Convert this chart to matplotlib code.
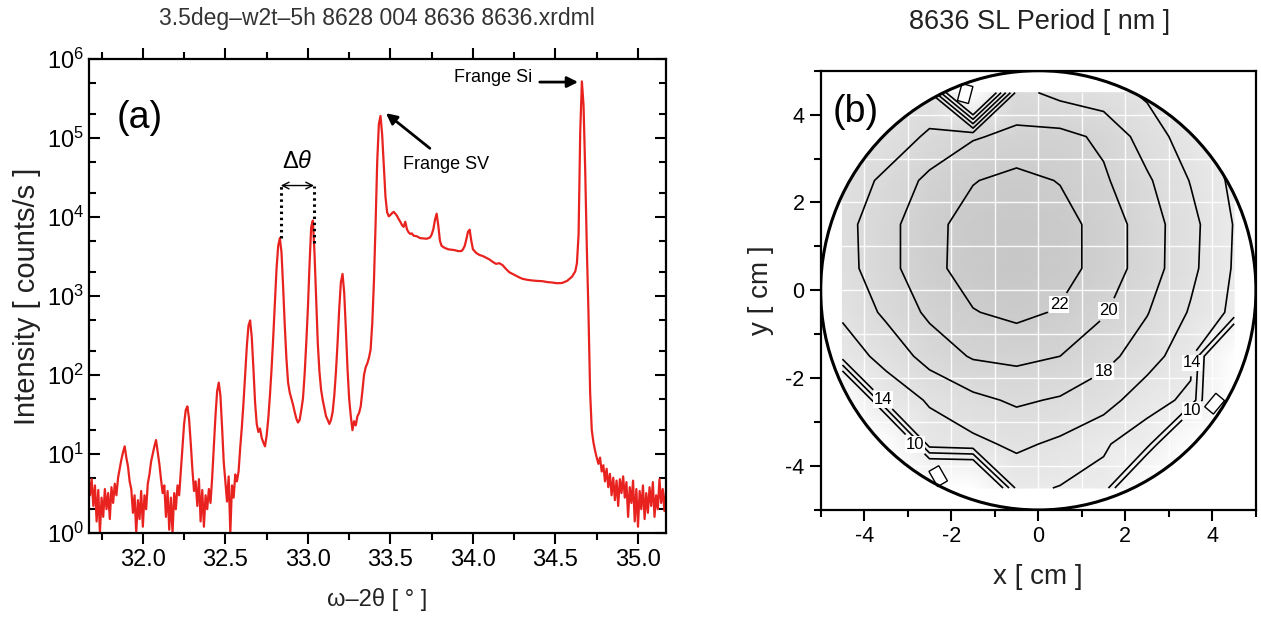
import numpy as np
import matplotlib
matplotlib.use('Agg')
import matplotlib.pyplot as plt
from matplotlib.colors import LinearSegmentedColormap
from matplotlib.patches import Circle, Rectangle
from matplotlib.ticker import MultipleLocator, LogLocator, NullFormatter

plt.rcParams['font.family'] = ['Liberation Sans', 'DejaVu Sans']
plt.rcParams['mathtext.fontset'] = 'custom'
plt.rcParams['mathtext.rm'] = 'Liberation Sans'
plt.rcParams['mathtext.it'] = 'Liberation Sans:italic'
plt.rcParams['axes.unicode_minus'] = False

# ---- (a) XRD omega-2theta scan ----
low_angle = [
    31.67, 31.68, 31.69, 31.70, 31.71, 31.72, 31.73, 31.74, 31.75, 31.76,
    31.77, 31.78, 31.79, 31.80, 31.81, 31.82, 31.83, 31.84, 31.85, 31.86,
    31.87, 31.88, 31.89, 31.90, 31.91, 31.92, 31.93, 31.94, 31.95, 31.96,
    31.97, 31.98, 31.99, 32.00, 32.01, 32.02, 32.03, 32.04, 32.05, 32.06,
    32.07, 32.08, 32.09, 32.10, 32.11, 32.12, 32.13, 32.14, 32.15, 32.16,
    32.17, 32.18, 32.19, 32.20, 32.21, 32.22, 32.23, 32.24, 32.25, 32.26,
    32.27, 32.28, 32.29, 32.30, 32.31, 32.32, 32.33, 32.34, 32.35, 32.36,
    32.37, 32.38, 32.39, 32.40, 32.41, 32.42, 32.43, 32.44, 32.45, 32.46,
    32.47, 32.48, 32.49, 32.50, 32.51, 32.52, 32.53, 32.54, 32.55, 32.56]
low_counts = [
    5.5, 3.0, 4.8, 2.2, 4.0, 1.4, 3.5, 1.0, 2.8, 1.6,
    3.6, 2.0, 3.2, 1.5, 3.8, 2.4, 4.2, 3.0, 5.0, 6.5,
    8.5, 10.5, 12.5, 9.0, 7.0, 4.5, 3.6, 1.8, 3.0, 1.0,
    2.6, 1.5, 3.4, 1.2, 3.0, 2.0, 4.2, 5.5, 8.0, 10.0,
    12.5, 15.0, 10.5, 7.5, 4.8, 3.2, 4.0, 1.6, 3.4, 1.1,
    2.8, 1.0, 3.2, 2.0, 4.0, 3.0, 6.0, 12.0, 24.0, 36.0,
    40.0, 28.0, 14.0, 6.5, 3.4, 4.5, 2.2, 4.8, 1.4, 3.5,
    1.2, 3.0, 2.0, 3.6, 2.4, 5.0, 12.0, 30.0, 62.0, 80.0,
    55.0, 22.0, 8.0, 4.5, 2.5, 5.2, 1.0, 4.0, 2.8, 5.5]

fringe_angle = [
    32.57, 32.58, 32.59, 32.60, 32.61, 32.62, 32.63, 32.64, 32.65, 32.66,
    32.67, 32.68, 32.69, 32.70, 32.71, 32.72, 32.73, 32.74, 32.75, 32.76,
    32.77, 32.78, 32.79, 32.80, 32.81, 32.82, 32.83, 32.84, 32.85, 32.86,
    32.87, 32.88, 32.89, 32.90, 32.91, 32.92, 32.93, 32.94, 32.95, 32.96,
    32.97, 32.98, 32.99, 33.00, 33.01, 33.02, 33.03, 33.04, 33.05, 33.06,
    33.07, 33.08, 33.09, 33.10, 33.11, 33.12, 33.13, 33.14, 33.15, 33.16,
    33.17, 33.18, 33.19, 33.20, 33.21, 33.22, 33.23, 33.24, 33.25, 33.26,
    33.27, 33.28, 33.29, 33.30, 33.31, 33.32, 33.33, 33.34, 33.35, 33.36,
    33.37, 33.38, 33.39, 33.40, 33.41, 33.42, 33.43, 33.44, 33.45, 33.46,
    33.47]
fringe_counts = [
    4.5, 6.0, 12.0, 22.0, 45.0, 100.0, 230.0, 420.0, 490.0, 300.0,
    120.0, 45.0, 24.0, 19.0, 21.0, 16.0, 14.0, 12.5, 17.0, 28.0,
    55.0, 120.0, 300.0, 800.0, 2200.0, 4300.0, 5400.0, 3600.0, 1300.0, 420.0,
    160.0, 80.0, 60.0, 50.0, 42.0, 34.0, 28.0, 25.0, 27.0, 36.0,
    50.0, 100.0, 250.0, 700.0, 2500.0, 7500.0, 9000.0, 3500.0, 900.0, 250.0,
    110.0, 65.0, 48.0, 38.0, 30.0, 27.0, 24.0, 27.0, 34.0, 55.0,
    110.0, 260.0, 700.0, 1500.0, 1900.0, 1100.0, 380.0, 120.0, 50.0, 30.0,
    20.0, 26.0, 23.0, 30.0, 33.0, 40.0, 62.0, 100.0, 125.0, 140.0,
    165.0, 210.0, 450.0, 1500.0, 8000.0, 50000.0, 150000.0, 190000.0, 110000.0, 45000.0,
    18000.0]

bg_angle = [
    33.48, 33.49, 33.50, 33.51, 33.52, 33.53, 33.54, 33.55, 33.56, 33.57,
    33.58, 33.59, 33.60, 33.61, 33.62, 33.63, 33.64, 33.66, 33.68, 33.70,
    33.72, 33.74, 33.75, 33.76, 33.77, 33.78, 33.79, 33.80, 33.81, 33.83,
    33.85, 33.87, 33.89, 33.91, 33.93, 33.94, 33.95, 33.96, 33.97, 33.98,
    33.99, 34.00, 34.02, 34.04, 34.06, 34.08, 34.10, 34.12, 34.14, 34.16,
    34.18, 34.20, 34.22, 34.24, 34.26, 34.28, 34.30, 34.33, 34.36, 34.39,
    34.42, 34.45, 34.48, 34.51, 34.54, 34.57, 34.60, 34.62, 34.63]
bg_counts = [
    11500, 10200, 10600, 11200, 11600, 11000, 10300, 9400, 8700, 7900,
    7500, 8700, 7000, 6400, 6100, 6200, 5800, 5700, 5400, 5350,
    5300, 5500, 6000, 7000, 9200, 11000, 7800, 5000, 4300, 4050,
    3900, 3850, 3800, 3700, 3700, 3900, 4300, 5200, 6500, 6900,
    5000, 3900, 3500, 3300, 3200, 3050, 2900, 2700, 2550, 2600,
    2450, 2200, 2000, 1900, 1800, 1720, 1650, 1600, 1570, 1550,
    1540, 1500, 1480, 1450, 1460, 1550, 1750, 2050, 2600]

si_angle = [
    34.64, 34.65, 34.66, 34.67, 34.68, 34.69, 34.70, 34.71, 34.72, 34.73,
    34.74, 34.75, 34.76, 34.77, 34.78, 34.79, 34.80, 34.81, 34.82, 34.83,
    34.84, 34.85, 34.86, 34.87, 34.88, 34.89, 34.90, 34.91, 34.92, 34.93,
    34.94, 34.95, 34.96, 34.97, 34.98, 34.99, 35.00, 35.01, 35.02, 35.03,
    35.04, 35.05, 35.06, 35.07, 35.08, 35.09, 35.10, 35.11, 35.12, 35.13,
    35.14, 35.15, 35.16, 35.17]
si_counts = [
    6000, 120000, 520000, 260000, 40000, 4000, 600, 60, 20, 14,
    11, 9.0, 7.5, 9.0, 6.0, 7.2, 4.5, 6.5, 3.8, 5.6,
    3.0, 5.0, 2.6, 4.6, 2.2, 4.8, 3.2, 5.2, 2.8, 4.4,
    1.6, 3.8, 2.4, 4.6, 1.4, 3.6, 1.2, 3.4, 2.0, 4.0,
    1.5, 3.2, 1.8, 3.8, 2.2, 4.4, 1.6, 3.0, 2.0, 4.8,
    2.4, 3.6, 1.9, 3.5]

fringe_marks = [32.836, 33.037]      # the two fringes used for delta theta
fringe_mark_tops = [5400, 4700]

# ---- (b) SL period map on the wafer [nm], 1 cm grid ----
grid_x = [-4.5, -3.5, -2.5, -1.5, -0.5, 0.5, 1.5, 2.5, 3.5, 4.5]
grid_y = [4.5, 3.5, 2.5, 1.5, 0.5, -0.5, -1.5, -2.5, -3.5, -4.5]
period_nm = [
    [16.0, 16.2, 16.2, 0.0, 18.6, 17.4, 16.8, 15.7, 14.0, 12.5],
    [16.3, 16.5, 18.4, 19.8, 20.5, 20.6, 19.6, 17.0, 15.0, 13.0],
    [16.6, 18.5, 20.5, 21.9, 22.6, 21.9, 20.3, 18.3, 15.9, 13.5],
    [17.3, 19.3, 21.4, 22.8, 23.5, 22.8, 21.2, 19.0, 16.6, 13.9],
    [17.2, 19.3, 21.4, 22.9, 23.6, 22.8, 21.2, 19.0, 16.5, 13.8],
    [16.3, 18.4, 20.4, 21.9, 22.5, 21.8, 20.2, 18.1, 15.8, 13.5],
    [15.0, 16.6, 18.8, 20.2, 20.5, 20.0, 18.6, 17.0, 14.5, 0.0],
    [0.0, 14.8, 16.2, 17.5, 18.3, 17.8, 16.9, 14.7, 13.6, 0.0],
    [0.0, 0.0, 15.0, 15.5, 16.4, 15.6, 14.2, 13.0, 0.0, 0.0],
    [0.0, 0.0, 0.0, 0.0, 14.5, 13.9, 13.5, 0.0, 0.0, 0.0]]
contour_levels = [10, 12, 14, 16, 18, 20, 22]
label_spots = [(0.5, -0.35), (1.7, -0.5), (1.52, -1.87),
               (-3.58, -2.49), (-2.85, -3.52), (3.51, -1.65), (3.51, -2.72)]

fig = plt.figure(figsize=(12.61, 6.30), dpi=100)

# ================= panel (a) =================
ax1 = fig.add_axes([0.0706, 0.154, 0.4576, 0.7524])
angle = low_angle + fringe_angle + bg_angle + si_angle
counts = low_counts + fringe_counts + bg_counts + si_counts
ax1.semilogy(angle, counts, color='#e8231f', lw=1.6)
ax1.set_xlim(31.674, 35.17)
ax1.set_ylim(1, 1e6)

ax1.xaxis.set_major_locator(MultipleLocator(0.5))
ax1.xaxis.set_minor_locator(MultipleLocator(0.25))
ax1.xaxis.set_major_formatter(plt.FormatStrFormatter('%.1f'))
ax1.yaxis.set_major_locator(LogLocator(base=10, numticks=10))
ax1.yaxis.set_minor_locator(LogLocator(base=10, subs=(2.0, 5.0), numticks=10))
ax1.yaxis.set_minor_formatter(NullFormatter())
ax1.tick_params(axis='x', which='both', direction='out', top=True, width=1.5, labelsize=17)
ax1.tick_params(axis='x', which='major', length=8)
ax1.tick_params(axis='x', which='minor', length=5)
ax1.tick_params(axis='y', which='both', direction='in', right=True, width=1.5, labelsize=17)
ax1.tick_params(axis='y', which='major', length=8)
ax1.tick_params(axis='y', which='minor', length=5)
for s in ax1.spines.values():
    s.set_linewidth(1.6)

ax1.set_xlabel('ω–2θ [ ° ]', fontsize=17, labelpad=12, color='#222222')
ax1.set_ylabel('Intensity [ counts/s ]', fontsize=21, labelpad=4, color='#222222')

# delta theta marker
for xm, top in zip(fringe_marks, fringe_mark_tops):
    ax1.plot([xm, xm], [top, 2.5e4], color='k', lw=2.2, ls=(0, (0.8, 1.2)))
ax1.annotate('', xy=(fringe_marks[0], 2.5e4), xytext=(fringe_marks[1], 2.5e4),
             arrowprops=dict(arrowstyle='<->', color='k', lw=1.0, mutation_scale=12,
                             shrinkA=0, shrinkB=0))
ax1.text(sum(fringe_marks) / 2, 4.9e4, r'$\Delta\theta$', ha='center', va='center', fontsize=17)

ax1.text(33.574, 4.6e4, 'Frange SV', ha='left', va='center', fontsize=13)
ax1.annotate('', xy=(33.473, 2.06e5), xytext=(33.739, 7.4e4),
             arrowprops=dict(arrowstyle='-|>', color='k', lw=2, mutation_scale=16,
                             shrinkA=0, shrinkB=0))
ax1.text(34.36, 5.9e5, 'Frange Si', ha='right', va='center', fontsize=13)
ax1.annotate('', xy=(34.637, 5.1e5), xytext=(34.405, 5.1e5),
             arrowprops=dict(arrowstyle='-|>', color='k', lw=2, mutation_scale=16,
                             shrinkA=0, shrinkB=0))
ax1.text(0.088, 0.875, '(a)', transform=ax1.transAxes, ha='center', va='center', fontsize=27)

fig.text(0.299, 0.971, '3.5deg–w2t–5h 8628 004 8636 8636.xrdml', ha='center', va='center',
         fontsize=16.5, color='#333333')

# ================= panel (b) =================
ax2 = fig.add_axes([0.6508, 0.1905, 0.3452, 0.6973])
X, Y = np.meshgrid(grid_x, grid_y)
Z = np.array(period_nm)

grey = LinearSegmentedColormap.from_list(
    'wafer_grey', [(0.0, '#ffffff'), (13 / 24, '#eeeeee'), (1.0, '#c6c6c6')])
wafer = Circle((0, 0), 5, facecolor='none', edgecolor='k', lw=2.2, zorder=6)
ax2.add_patch(wafer)

mesh = ax2.pcolormesh(X, Y, Z, shading='gouraud', cmap=grey, vmin=0, vmax=24, zorder=1)
mesh.set_clip_path(wafer)

for v in range(-4, 5):
    gl = ax2.plot([v, v], [-4.5, 4.5], color='white', lw=1.0, alpha=0.9, zorder=2)[0]
    gl.set_clip_path(wafer)
    gl = ax2.plot([-4.5, 4.5], [v, v], color='white', lw=1.0, alpha=0.9, zorder=2)[0]
    gl.set_clip_path(wafer)

cs = ax2.contour(X, Y, Z, levels=contour_levels, colors='k', linewidths=1.2, zorder=3)
cs.set_clip_path(wafer)
labels = ax2.clabel(cs, fmt='%d', fontsize=12, inline=True, inline_spacing=3,
                    manual=label_spots)
for t in labels:
    t.set_rotation(0)
    t.set_bbox(dict(facecolor='white', edgecolor='none', pad=0.6))
    t.set_zorder(4)

# empty label boxes clipped at the wafer edge
for (cx, cy, ang) in [(-1.68, 4.48, -15), (-2.3, -4.23, 30), (4.05, -2.58, -40)]:
    ax2.add_patch(Rectangle((cx - 0.13, cy - 0.2), 0.26, 0.4, angle=ang, rotation_point='center',
                            facecolor='white', edgecolor='k', lw=1.0, zorder=5))

ax2.set_xlim(-5, 5)
ax2.set_ylim(-5, 5)
ax2.set_xticks([-4, -2, 0, 2, 4])
ax2.set_yticks([-4, -2, 0, 2, 4])
ax2.xaxis.set_minor_locator(MultipleLocator(1))
ax2.yaxis.set_minor_locator(MultipleLocator(1))
ax2.tick_params(which='both', direction='out', top=False, right=False, width=1.5, labelsize=15.5)
ax2.tick_params(which='major', length=8)
ax2.tick_params(which='minor', length=5)
for s in ax2.spines.values():
    s.set_linewidth(1.6)
ax2.set_xlabel('x [ cm ]', fontsize=20, labelpad=12, color='#222222')
ax2.set_ylabel('y [ cm ]', fontsize=20, labelpad=8, color='#222222')
ax2.text(-4.19, 4.06, '(b)', ha='center', va='center', fontsize=27, zorder=7)

fig.text(0.824, 0.965, '8636 SL Period [ nm ]', ha='center', va='center', fontsize=19.5,
         color='#222222')

fig.savefig('out.png', dpi=100)
